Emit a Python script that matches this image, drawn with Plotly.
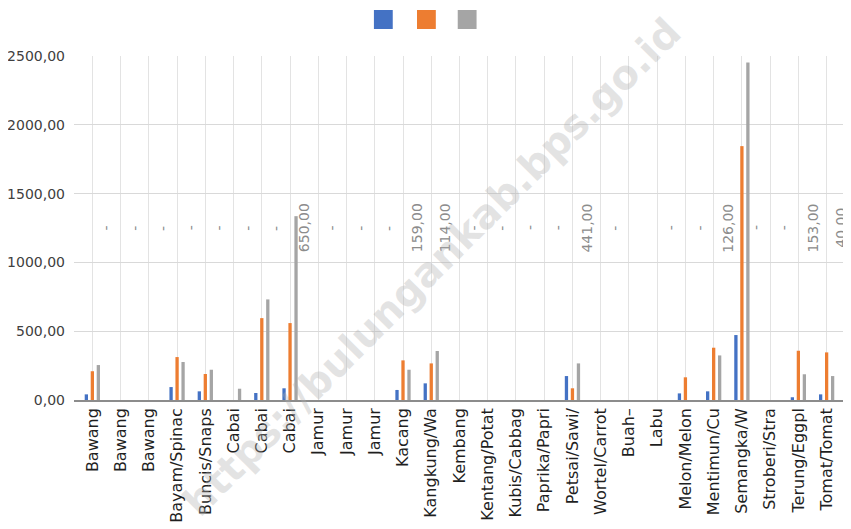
import plotly.graph_objects as go

categories = ["Bawang", "Bawang", "Bawang", "Bayam/Spinac", "Buncis/Snaps", "Cabai", "Cabai", "Cabai",
              "Jamur", "Jamur", "Jamur", "Kacang", "Kangkung/Wa", "Kembang", "Kentang/Potat",
              "Kubis/Cabbag", "Paprika/Papri", "Petsai/Sawi/", "Wortel/Carrot", "Buah–", "Labu",
              "Melon/Melon", "Mentimun/Cu", "Semangka/W", "Stroberi/Stra", "Terung/Eggpl", "Tomat/Tomat"]

series_blue = [41, 0, 0, 94, 63, 0, 51, 85, 0, 0, 0, 73, 121, 0, 0, 0, 0, 174, 0, 0, 0, 48, 63, 472, 0, 20, 41]
series_orange = [209, 0, 0, 312, 189, 0, 595, 559, 0, 0, 0, 288, 266, 0, 0, 0, 0, 85, 0, 0, 0, 165, 380, 1845, 0, 358, 346]
series_gray = [254, 0, 0, 276, 220, 82, 731, 1336, 0, 0, 0, 220, 356, 0, 0, 0, 0, 266, 0, 0, 0, 0, 324, 2452, 0, 187, 174]

# values of the labelled (hidden) series; None = no label
label_values = [0, 0, 0, 0, 0, 0, 0, 650, 0, 0, 0, 159, 114, 0, 0, 0, 0, 441, 0, None, 0, 0, 126, 0, 0, 153, 40]
label_level = 1250

y_ticks = [0, 500, 1000, 1500, 2000, 2500]

colors = ["#4472C4", "#ED7D31", "#A5A5A5"]

x = list(range(len(categories)))

fig = go.Figure()
for vals, col in zip([series_blue, series_orange, series_gray], colors):
    fig.add_trace(go.Bar(x=x, y=vals, name="", marker=dict(color=col, line=dict(width=0)),
                         showlegend=False))

def fmt(v):
    if v == 0:
        return "-"
    return f"{v:.2f}".replace(".", ",")

annotations = []
for i, v in enumerate(label_values):
    if v is None:
        continue
    annotations.append(dict(x=i + 0.5, y=label_level, xref="x", yref="y", text=fmt(v),
                            showarrow=False, textangle=-90, borderpad=0, xanchor="center",
                            yanchor="middle",
                            font=dict(family="DejaVu Sans", size=14, color="#8c8c8c")))

annotations.append(dict(x=0.465, y=0.387, xref="paper", yref="paper",
                        text="https://bulungankab.bps.go.id", showarrow=False, textangle=-45,
                        font=dict(family="DejaVu Sans", size=40, color="rgba(175,175,175,0.35)",
                                  weight="bold")))

# legend keys (the reference legend has coloured keys only, no text)
legend_x0 = [0.390, 0.446, 0.499]
key_w = 0.0245
shapes = [dict(type="rect", xref="paper", yref="paper", x0=x0, x1=x0 + key_w, y0=1.0785, y1=1.1337,
               fillcolor=col, line=dict(width=0), layer="above")
          for x0, col in zip(legend_x0, colors)]

# page body has an 8px margin, so the figure is drawn 8px in from the top-left corner
fig.update_layout(
    width=843, height=521,
    margin=dict(l=66, r=8, t=48, b=129, autoexpand=False),
    paper_bgcolor="white", plot_bgcolor="white",
    barmode="group", bargap=0.363, bargroupgap=0.45,
    separators=",.",
    showlegend=False,
    annotations=annotations,
    shapes=shapes,
)
fig.update_xaxes(
    range=[-0.65, 26.58], tickmode="array", tickvals=x, ticktext=categories,
    tickangle=-90, showgrid=True, gridcolor="#e3e3e3", gridwidth=1,
    showline=True, linecolor="#8c8c8c", linewidth=1.5, ticks="", zeroline=False,
    tickfont=dict(family="DejaVu Sans", size=16, color="#1f1f1f"), automargin=False,
)
fig.update_yaxes(
    range=[0, 2500], tickvals=y_ticks, tickformat=".2f",
    showgrid=True, gridcolor="#d9d9d9", gridwidth=1.3, zeroline=False,
    tickfont=dict(family="DejaVu Sans", size=14, color="#404040"), ticklabelstandoff=8,
    automargin=False,
)

fig.write_html("out.html")
